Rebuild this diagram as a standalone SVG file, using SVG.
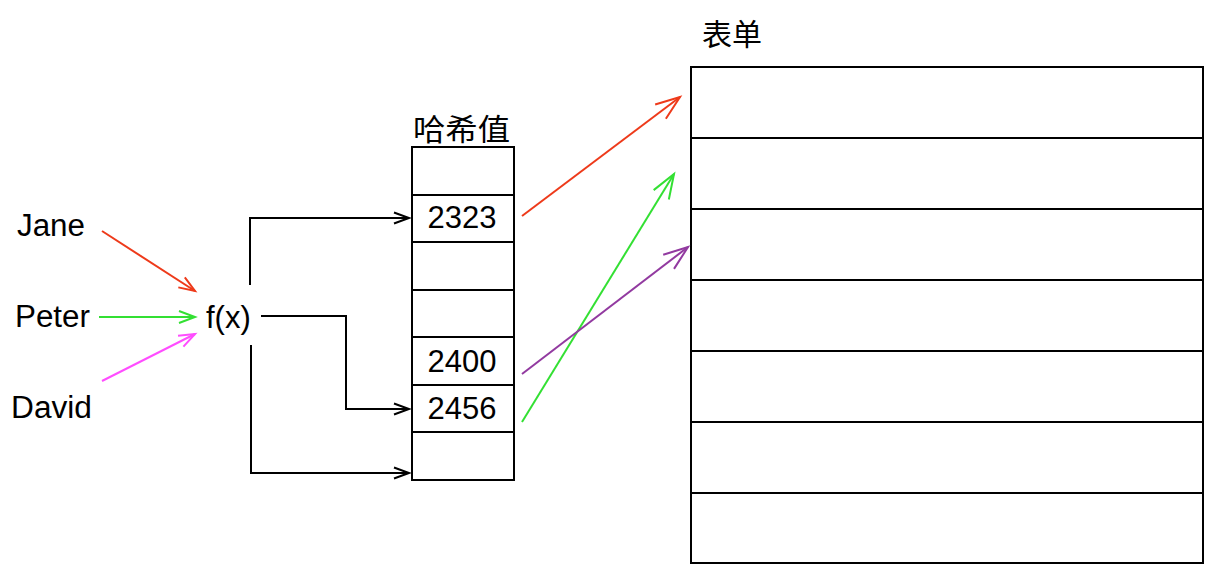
<svg xmlns="http://www.w3.org/2000/svg" width="1206" height="566" viewBox="0 0 1206 566">
<style>
.t{font-family:"Liberation Sans",Arial,sans-serif;font-size:31px;fill:#000}
.c{font-family:"Liberation Sans","Noto Sans CJK SC",sans-serif;font-size:30px;fill:#000}
.box{fill:#fff;stroke:#000;stroke-width:2}
.sep{stroke:#000;stroke-width:2}
.k{fill:none;stroke:#000;stroke-width:2}
.red{fill:none;stroke:#EE3A1A;stroke-width:2}
.grn{fill:none;stroke:#33E033;stroke-width:2}
.mag{fill:none;stroke:#FF4DFF;stroke-width:2}
.pur{fill:none;stroke:#923AA0;stroke-width:2}
</style>
<defs>
<marker id="ak" markerUnits="userSpaceOnUse" orient="auto" overflow="visible"><path d="M-15,-5.5 L0,0 L-15,5.5" fill="none" stroke="#000" stroke-width="2"/></marker>
<marker id="ar" markerUnits="userSpaceOnUse" orient="auto" overflow="visible"><path d="M-16,-6 L0,0 L-16,6" fill="none" stroke="#EE3A1A" stroke-width="2"/></marker>
<marker id="ag" markerUnits="userSpaceOnUse" orient="auto" overflow="visible"><path d="M-16,-6 L0,0 L-16,6" fill="none" stroke="#33E033" stroke-width="2"/></marker>
<marker id="am" markerUnits="userSpaceOnUse" orient="auto" overflow="visible"><path d="M-16,-6 L0,0 L-16,6" fill="none" stroke="#FF4DFF" stroke-width="2"/></marker>
<marker id="ar2" markerUnits="userSpaceOnUse" orient="auto" overflow="visible"><path d="M-24.4,-8.9 L0,0 L-24.4,8.9" fill="none" stroke="#EE3A1A" stroke-width="2"/></marker>
<marker id="ag2" markerUnits="userSpaceOnUse" orient="auto" overflow="visible"><path d="M-24.4,-8.9 L0,0 L-24.4,8.9" fill="none" stroke="#33E033" stroke-width="2"/></marker>
<marker id="ap2" markerUnits="userSpaceOnUse" orient="auto" overflow="visible"><path d="M-24.4,-8.9 L0,0 L-24.4,8.9" fill="none" stroke="#923AA0" stroke-width="2"/></marker>
</defs>
<rect width="1206" height="566" fill="#fff"/>

<g id="jane"><text class="t" x="17" y="236" textLength="68" lengthAdjust="spacingAndGlyphs">Jane</text></g>
<g id="peter"><text class="t" x="15" y="327" textLength="75" lengthAdjust="spacingAndGlyphs">Peter</text></g>
<g id="david"><text class="t" x="11" y="418" textLength="81" lengthAdjust="spacingAndGlyphs">David</text></g>
<g id="fx"><text class="t" x="206" y="328">f(x)</text></g>

<g id="hash">
<text class="c" x="413" y="140" textLength="97" lengthAdjust="spacingAndGlyphs">哈希值</text>
<rect class="box" x="412" y="147" width="102" height="333"/>
<line class="sep" x1="412" y1="195" x2="514" y2="195"/>
<line class="sep" x1="412" y1="242" x2="514" y2="242"/>
<line class="sep" x1="412" y1="290" x2="514" y2="290"/>
<line class="sep" x1="412" y1="337" x2="514" y2="337"/>
<line class="sep" x1="412" y1="385" x2="514" y2="385"/>
<line class="sep" x1="412" y1="432" x2="514" y2="432"/>
<text class="t" x="462" y="228" text-anchor="middle">2323</text>
<text class="t" x="462" y="372" text-anchor="middle">2400</text>
<text class="t" x="462" y="419" text-anchor="middle">2456</text>
</g>

<g id="table">
<text class="c" x="702" y="45">表单</text>
<rect class="box" x="691" y="67" width="512" height="496"/>
<line class="sep" x1="691" y1="138" x2="1203" y2="138"/>
<line class="sep" x1="691" y1="209" x2="1203" y2="209"/>
<line class="sep" x1="691" y1="280" x2="1203" y2="280"/>
<line class="sep" x1="691" y1="351" x2="1203" y2="351"/>
<line class="sep" x1="691" y1="422" x2="1203" y2="422"/>
<line class="sep" x1="691" y1="493" x2="1203" y2="493"/>
</g>

<g id="connectors">
<line class="red" x1="102" y1="231" x2="195" y2="291" marker-end="url(#ar)"/>
<line class="grn" x1="99" y1="317" x2="195" y2="317" marker-end="url(#ag)"/>
<line class="mag" x1="102" y1="381" x2="195" y2="334" marker-end="url(#am)"/>
<path class="k" d="M250,285 V218 H409" marker-end="url(#ak)"/>
<path class="k" d="M261,316 H346 V409 H409" marker-end="url(#ak)"/>
<path class="k" d="M251,345 V473 H409" marker-end="url(#ak)"/>
<line class="red" x1="522" y1="216" x2="680" y2="97" marker-end="url(#ar2)"/>
<line class="grn" x1="522" y1="422" x2="674" y2="174" marker-end="url(#ag2)"/>
<line class="pur" x1="522" y1="374" x2="688" y2="247" marker-end="url(#ap2)"/>
</g>
</svg>
